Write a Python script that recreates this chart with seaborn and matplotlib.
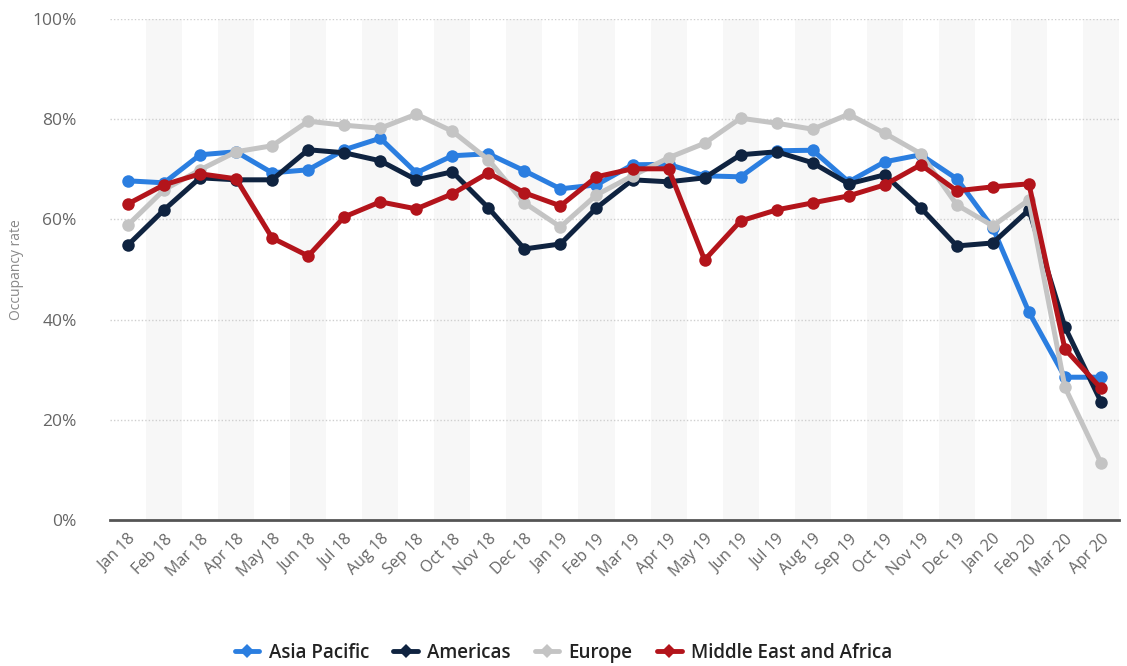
import numpy as np
import pandas as pd
import seaborn as sns
import matplotlib
matplotlib.use("Agg")
import matplotlib.pyplot as plt
from matplotlib.lines import Line2D

months = ["Jan 18", "Feb 18", "Mar 18", "Apr 18", "May 18", "Jun 18", "Jul 18",
          "Aug 18", "Sep 18", "Oct 18", "Nov 18", "Dec 18", "Jan 19", "Feb 19",
          "Mar 19", "Apr 19", "May 19", "Jun 19", "Jul 19", "Aug 19", "Sep 19",
          "Oct 19", "Nov 19", "Dec 19", "Jan 20", "Feb 20", "Mar 20", "Apr 20"]

asia_pacific = [67.7, 67.3, 72.9, 73.5, 69.3, 69.9, 73.9, 76.2, 69.3, 72.7, 73.1, 69.7,
                66.1, 66.9, 70.9, 71.0, 68.7, 68.5, 73.7, 73.8, 67.5, 71.5, 72.9, 68.1,
                58.3, 41.5, 28.5, 28.5]
americas = [54.9, 61.9, 68.3, 67.9, 67.9, 73.9, 73.3, 71.7, 67.9, 69.5, 62.3, 54.1,
            55.1, 62.3, 67.9, 67.5, 68.3, 72.9, 73.5, 71.3, 67.1, 68.9, 62.3, 54.7,
            55.3, 61.9, 38.5, 23.6]
europe = [58.9, 65.9, 69.9, 73.5, 74.7, 79.6, 78.8, 78.2, 81.0, 77.6, 71.9, 63.3,
          58.5, 64.9, 68.7, 72.3, 75.2, 80.2, 79.2, 78.0, 81.0, 77.2, 73.1, 62.9,
          58.7, 63.9, 26.5, 11.4]
middle_east_africa = [63.1, 66.9, 69.1, 68.1, 56.3, 52.7, 60.5, 63.5, 62.1, 65.1, 69.3, 65.3,
                      62.7, 68.5, 70.1, 70.1, 51.9, 59.7, 61.9, 63.3, 64.7, 66.9, 70.9, 65.7,
                      66.5, 67.1, 34.1, 26.3]

regions = ["Asia Pacific", "Americas", "Europe", "Middle East and Africa"]
colors = ["#2b7ee0", "#0f2340", "#c4c4c4", "#b3141b"]
y_ticks = [0, 20, 40, 60, 80, 100]

series = [asia_pacific, americas, europe, middle_east_africa]
df = pd.concat(
    [pd.DataFrame({"idx": np.arange(len(months)), "month": months,
                   "rate": vals, "region": name})
     for name, vals in zip(regions, series)],
    ignore_index=True,
)

sns.set_theme(style="white")
plt.rcParams["font.family"] = ["Open Sans", "DejaVu Sans"]

fig = plt.figure(figsize=(11.27, 6.66), dpi=100)
ax = fig.add_axes([110 / 1127, 146 / 666, 1009 / 1127, 501 / 666])

# alternating month bands
for i in range(1, len(months), 2):
    ax.axvspan(i - 0.5, i + 0.5, color="#f7f7f7", zorder=0, lw=0)

# dotted horizontal gridlines
for t in y_ticks[1:]:
    ax.axhline(t, color="#cfcfcf", lw=1, ls=(0, (1, 1.5)), zorder=1)

palette = dict(zip(regions, colors))
sns.lineplot(data=df, x="idx", y="rate", hue="region", hue_order=regions,
             palette=palette, marker="o", markersize=9, linewidth=3.6,
             markeredgewidth=0, legend=False, ax=ax, zorder=3)

ax.set_xlim(-0.5, len(months) - 0.5)
ax.set_ylim(0, 100)
ax.set_xticks(np.arange(len(months)))
ax.set_xticklabels(months, rotation=45, ha="right", rotation_mode="anchor",
                   fontsize=11.5, color="#666666")
ax.set_yticks(y_ticks)
ax.set_yticklabels([f"{t}%" for t in y_ticks], fontsize=12.5, color="#666666")
ax.tick_params(axis="both", length=0)
ax.tick_params(axis="x", pad=8)
ax.tick_params(axis="y", pad=24)
ax.set_xlabel("")
ax.set_ylabel("Occupancy rate", fontsize=10, color="#888888", labelpad=6)

for s in ["top", "right", "left"]:
    ax.spines[s].set_visible(False)
ax.spines["bottom"].set_color("#555555")
ax.spines["bottom"].set_linewidth(2)
ax.spines["bottom"].set_zorder(4)

handles = [Line2D([0], [0], color=c, lw=3.5, marker="D", markersize=7,
                  markeredgewidth=0) for c in colors]
leg = fig.legend(handles, regions, loc="center", bbox_to_anchor=(0.5, 1 - 653 / 666),
                 ncol=4, frameon=False, handlelength=1.3, handletextpad=0.5,
                 columnspacing=1.3, prop={"size": 13.5, "weight": "semibold"})
for txt in leg.get_texts():
    txt.set_color("#222222")

fig.savefig("out.png", dpi=100)
